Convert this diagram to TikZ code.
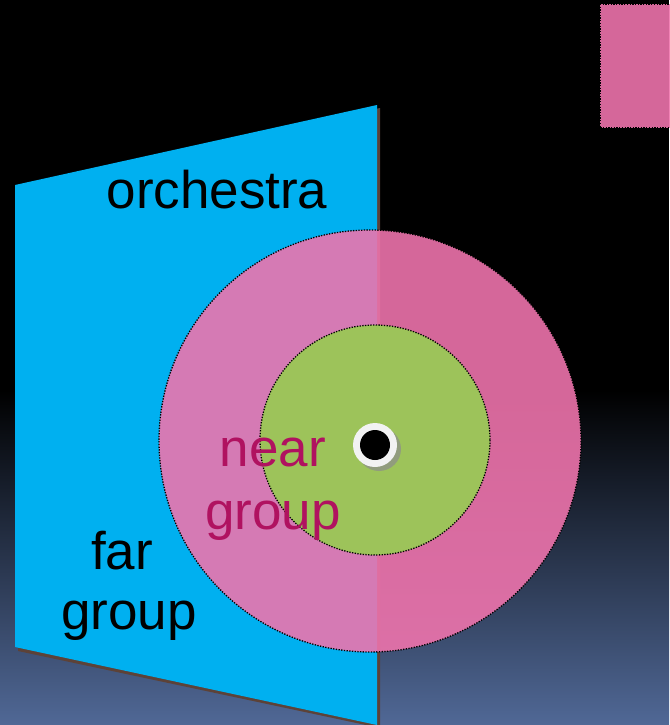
\documentclass[tikz,border=0pt]{standalone}
\usepackage{fontspec}
\setmainfont{Liberation Sans}
\usetikzlibrary{positioning}

\definecolor{stagecyan}{RGB}{0,176,240}
\definecolor{ringpink}{RGB}{240,116,173}
\definecolor{zonegreen}{RGB}{157,195,90}
\definecolor{neartext}{RGB}{176,18,96}
\definecolor{bgblue}{RGB}{80,104,150}
\definecolor{edgebrown}{RGB}{92,66,56}

\begin{document}
\begin{tikzpicture}[x=1pt,y=-1pt,
  big text/.style={font=\fontsize{53}{63}\selectfont,align=center,inner sep=0pt},
  zone/.style={draw=black,line width=1.3pt,dash pattern=on 1.3pt off 1.4pt}]
  \useasboundingbox (0,0) rectangle (669,725);
  % background
  \fill[black] (0,0) rectangle (669,392);
  \shade[top color=black,bottom color=bgblue] (0,390) rectangle (669,725);
  % orchestra wall
  \fill[edgebrown] (18,188) -- (380,108) -- (380,728) -- (18,651) -- cycle;
  \fill[stagecyan] (15,185) -- (377,105) -- (377,725) -- (15,647) -- cycle;
  % listening zones
  \fill[ringpink,opacity=0.89] (370,441) circle (211);
  \draw[zone] (370,441) circle (211);
  \fill[zonegreen] (375,440) circle (115);
  \draw[zone] (375,440) circle (115);
  % listener
  \fill[black!45,opacity=0.7] (379,449) circle (22);
  \fill[white!95!black] (375,445) circle (22);
  \fill[black] (375,445) circle (15);
  % legend swatch
  \fill[ringpink,opacity=0.89] (600,4) rectangle (675,128);
  \draw[zone] (600,4) rectangle (675,128);
  % labels
  \node[big text] (orch) at (217,190) {orchestra};
  \node[big text,text=neartext] (near) at (273,489) {near\\group};
  \node[big text] (far) at (122,551) {far};
  \node[big text] (farb) at (129,621) {group};
\end{tikzpicture}
\end{document}
